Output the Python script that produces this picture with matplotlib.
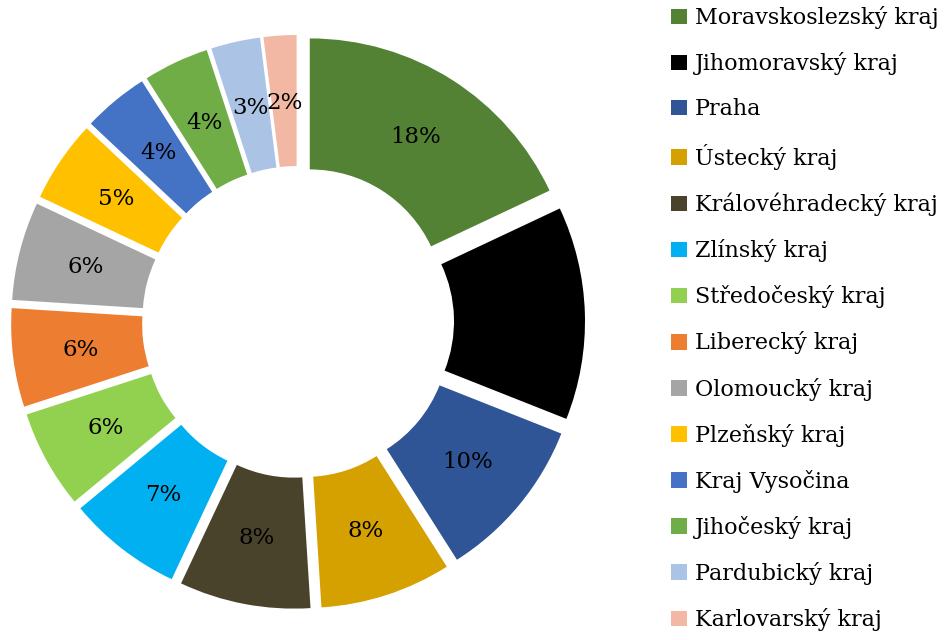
import matplotlib.pyplot as plt
from matplotlib.patches import Patch

# share of regions (%), clockwise from the top
regions = ["Moravskoslezský kraj", "Jihomoravský kraj", "Praha", "Ústecký kraj",
           "Královéhradecký kraj", "Zlínský kraj", "Středočeský kraj", "Liberecký kraj",
           "Olomoucký kraj", "Plzeňský kraj", "Kraj Vysočina", "Jihočeský kraj",
           "Pardubický kraj", "Karlovarský kraj"]
shares = [18, 13, 10, 8, 8, 7, 6, 6, 6, 5, 4, 4, 3, 2]
colors = ["#548235", "#000000", "#2F5597", "#D5A100", "#4A432B", "#00B0F0", "#92D050",
          "#ED7D31", "#A5A5A5", "#FFC000", "#4472C4", "#70AD47", "#ABC4E6", "#F3B8A3"]

plt.rcParams['font.family'] = ['DejaVu Serif']

fig = plt.figure(figsize=(9.46, 6.4), dpi=100)
ax = fig.add_axes([0, 20 / 640, 596 / 946, 596 / 640])

R = 265
# explode offset is in data units (not scaled by radius)
wedges, texts, pcts = ax.pie(
    shares, colors=colors, radius=R, startangle=90, counterclock=False,
    explode=[22] * len(shares), autopct='%1.0f%%', pctdistance=0.745,
    wedgeprops=dict(width=131, linewidth=0),
    textprops=dict(fontsize=16.5, color='black'))
ax.set_xlim(-298, 298)
ax.set_ylim(-298, 298)
ax.set_aspect('equal')
ax.axis('off')

handles = [Patch(facecolor=c, edgecolor='none') for c in colors]
fig.legend(handles, regions, loc='upper left', bbox_to_anchor=(669 / 946, 636 / 640),
           frameon=False, fontsize=16, handlelength=0.7, handleheight=0.7,
           handletextpad=0.35, labelspacing=1.04, borderaxespad=0, borderpad=0.1)

fig.savefig("out.png", dpi=100)
